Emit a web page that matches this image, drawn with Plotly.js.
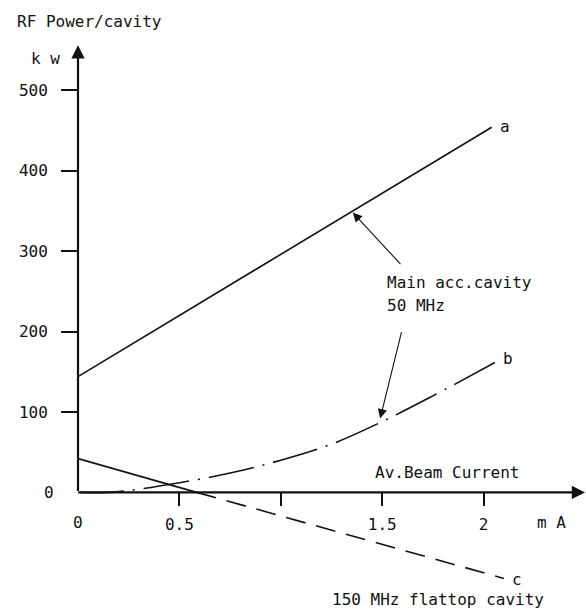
<!DOCTYPE html>
<html>
<head>
<meta charset="utf-8">
<script src="https://cdn.plot.ly/plotly-3.0.1.min.js"></script>
<style>
  html, body { margin: 0; padding: 0; background: #fff; }
  #chart { width: 586px; height: 610px; }
</style>
</head>
<body>
<div id="chart"></div>
<script>
// ---- data ----
const aX = [0, 2.04];
const aY = [144, 454];

const bX = [0, 0.15, 0.3, 0.5, 0.75, 1.0, 1.25, 1.5, 1.75, 2.06];
const bY = [0, 0, 4, 12, 24, 40, 60, 88, 120, 162];

const cX = [0, 0.585, 2.1];
const cY = [42, 0, -107];

const xTickVals = [0.5, 1, 1.5, 2];
const xTickText = ["0.5", "", "1.5", "2"];
const yTickVals = [100, 200, 300, 400, 500];
const yTickText = ["100", "200", "300", "400", "500"];

const FONT = "DejaVu Sans Mono";
const INK = "#111";

const traces = [
  { x: aX, y: aY, mode: "lines", line: { color: INK, width: 1.6 }, hoverinfo: "skip" },
  { x: bX, y: bY, mode: "lines", line: { color: INK, width: 1.6, shape: "spline", dash: "46px,9px,2px,9px" }, hoverinfo: "skip" },
  { x: cX.slice(0, 2), y: cY.slice(0, 2), mode: "lines", line: { color: INK, width: 1.6 }, hoverinfo: "skip" },
  { x: cX.slice(1), y: cY.slice(1), mode: "lines", line: { color: INK, width: 1.6, dash: "20px,11px" }, hoverinfo: "skip" }
];

function txt(x, y, text, xanchor, xref, yref) {
  return { x: x, y: y, xref: xref || "x", yref: yref || "y", text: text, showarrow: false,
           xanchor: xanchor || "center", yanchor: "middle", font: { family: FONT, size: 16, color: INK } };
}

const annotations = [
  // axis arrows
  { x: 0, y: 556, ax: 0, ay: 0, xref: "x", yref: "y", axref: "x", ayref: "y",
    showarrow: true, arrowhead: 2, arrowsize: 1.2, arrowwidth: 2.2, arrowcolor: INK, text: "" },
  { x: 2.5, y: 0, ax: 0, ay: 0, xref: "x", yref: "y", axref: "x", ayref: "y",
    showarrow: true, arrowhead: 2, arrowsize: 1.2, arrowwidth: 2.2, arrowcolor: INK, text: "" },
  // pointer arrows from label
  { x: 1.355, y: 348, ax: 1.597, ay: 282, xref: "x", yref: "y", axref: "x", ayref: "y",
    showarrow: true, arrowhead: 2, arrowsize: 1.7, arrowwidth: 1.1, arrowcolor: INK, text: "" },
  { x: 1.49, y: 92, ax: 1.597, ay: 201, xref: "x", yref: "y", axref: "x", ayref: "y",
    showarrow: true, arrowhead: 2, arrowsize: 1.7, arrowwidth: 1.1, arrowcolor: INK, text: "" },
  // texts
  txt((15 - 78) / 507, 589 / 567, "RF Power/cavity", "left", "paper", "paper"),
  txt((45 - 78) / 507, 540, "k w", "center", "paper", "y"),
  txt((49 - 78) / 507, 0, "0", "center", "paper", "y"),
  txt(0, -38, "0", "center"),
  txt(2.335, -38, "m A", "center"),
  txt(1.82, 25, "Av.Beam Current", "center"),
  txt(1.515, 261, "Main acc.cavity", "left"),
  txt(1.515, 232, "50 MHz", "left"),
  txt(2.105, 455, "a", "center"),
  txt(2.118, 166, "b", "center"),
  txt(2.167, -108, "c", "center"),
  txt(1.775, -133, "150 MHz flattop cavity", "center")
];
annotations[4].y = (610 - 21 - 1) / 567;

const layout = {
  width: 586, height: 610,
  margin: { l: 78, r: 1, t: 42, b: 1, pad: 0 },
  paper_bgcolor: "#fff", plot_bgcolor: "#fff",
  showlegend: false,
  font: { family: FONT, size: 16, color: INK },
  xaxis: {
    range: [0, 2.5], showgrid: false, zeroline: false, showline: false,
    anchor: "free", position: 145 / 705,
    tickmode: "array", tickvals: xTickVals, ticktext: xTickText,
    ticks: "outside", ticklen: 13, tickwidth: 2, tickcolor: INK,
    tickfont: { family: FONT, size: 16, color: INK }, ticklabelstandoff: 4
  },
  yaxis: {
    range: [-145, 560], showgrid: false, zeroline: false, showline: false,
    tickmode: "array", tickvals: yTickVals, ticktext: yTickText,
    ticks: "outside", ticklen: 16, tickwidth: 2, tickcolor: INK,
    tickfont: { family: FONT, size: 16, color: INK }, ticklabelstandoff: 10
  },
  annotations: annotations
};

Plotly.newPlot("chart", traces, layout, { displayModeBar: false, staticPlot: true });
</script>
</body>
</html>
